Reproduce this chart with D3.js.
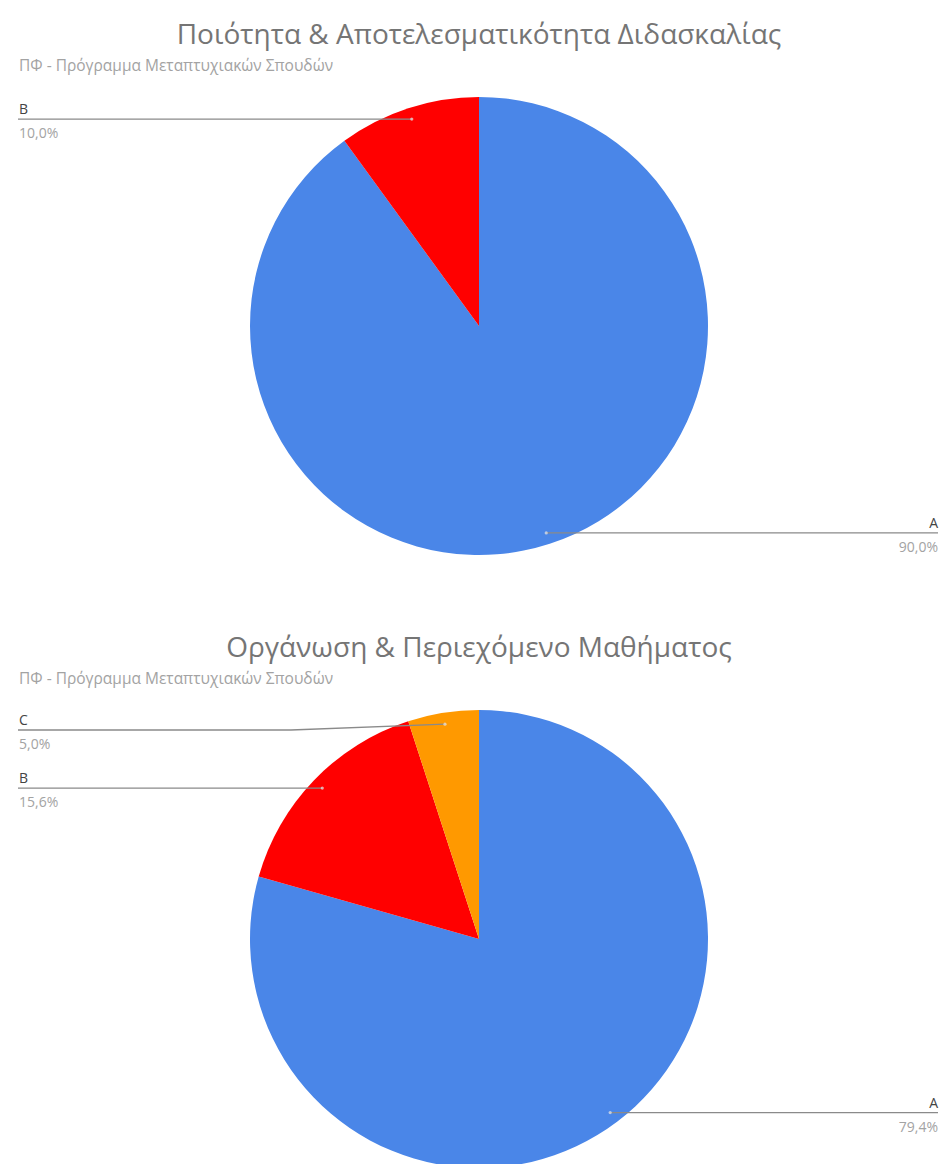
<!DOCTYPE html>
<html>
<head>
<meta charset="utf-8">
<script src="https://cdn.jsdelivr.net/npm/d3@7"></script>
<style>
  body { margin: 0; background: #fff; }
  text { font-family: "Open Sans", sans-serif; }
</style>
</head>
<body>
<div id="vis"></div>
<script>
// Page constants
const FRAME_WIDTH = 943;
const FRAME_HEIGHT = 1164;
const CHART_STEP = 613;
const RADIUS = 229;
const CENTER_X = 479;
const CENTER_Y = 326;

// Chart data
const TITLES = ["Ποιότητα & Αποτελεσματικότητα Διδασκαλίας", "Οργάνωση & Περιεχόμενο Μαθήματος"];
const SUBTITLE = "ΠΦ - Πρόγραμμα Μεταπτυχιακών Σπουδών";
const CATEGORIES_1 = ["A", "B"];
const VALUES_1 = [90.0, 10.0];
const CATEGORIES_2 = ["A", "B", "C"];
const VALUES_2 = [79.4, 15.6, 5.0];
const COLORS = {A: "#4a86e8", B: "#ff0000", C: "#ff9900"};

const FRAME = d3.select("#vis")
    .append("svg")
    .attr("width", FRAME_WIDTH)
    .attr("height", FRAME_HEIGHT);

const fmt = (v) => v.toFixed(1).replace(".", ",") + "%";

function drawPie(idx, cats, vals) {
    let top = idx * CHART_STEP;
    let g = FRAME.append("g").attr("transform", "translate(0," + top + ")");

    g.append("text")
        .attr("x", CENTER_X)
        .attr("y", 44)
        .attr("text-anchor", "middle")
        .attr("font-size", "28px")
        .attr("fill", "#757575")
        .text(TITLES[idx]);

    g.append("text")
        .attr("x", 19)
        .attr("y", 71)
        .attr("font-size", "15.5px")
        .attr("fill", "#a3a3a3")
        .text(SUBTITLE);

    let data = cats.map((c, i) => ({cat: c, value: vals[i]}));
    let pie = d3.pie().sort(null).value((d) => d.value);
    let arc = d3.arc().innerRadius(0).outerRadius(RADIUS);
    let arcs = pie(data);

    let pg = g.append("g").attr("transform", "translate(" + CENTER_X + "," + CENTER_Y + ")");
    pg.selectAll("path")
        .data(arcs)
        .enter()
        .append("path")
        .attr("d", arc)
        .attr("fill", (d) => COLORS[d.data.cat]);

    // leader lines + labels
    let inner = d3.arc().innerRadius(RADIUS * 0.95).outerRadius(RADIUS * 0.95);
    arcs.forEach((d) => {
        let [px, py] = inner.centroid(d);
        px += CENTER_X; py += CENTER_Y;
        let mid = (d.startAngle + d.endAngle) / 2;
        let right = mid < Math.PI;
        let ly = py;
        // keep the small top-left label clear of the subtitle
        if (!right && py < CENTER_Y - RADIUS + 20) ly = CENTER_Y - RADIUS + 20;
        let ex = right ? 938 : 18;
        let pts;
        if (ly !== py) {
            pts = [[px, py], [px - 154, ly], [ex, ly]];
        } else {
            pts = [[px, py], [ex, ly]];
        }
        g.append("path")
            .attr("d", d3.line()(pts))
            .attr("fill", "none")
            .attr("stroke", "#8a8a8a")
            .attr("stroke-width", 1.3);
        g.append("circle")
            .attr("cx", px).attr("cy", py).attr("r", 1.6)
            .attr("fill", "#e8e8e8").attr("opacity", 0.7);

        let tx = right ? 938 : 19;
        let anchor = right ? "end" : "start";
        g.append("text")
            .attr("x", tx).attr("y", ly - 5)
            .attr("text-anchor", anchor)
            .attr("font-size", "14px")
            .attr("fill", "#444")
            .text(d.data.cat);
        g.append("text")
            .attr("x", tx).attr("y", ly + 19)
            .attr("text-anchor", anchor)
            .attr("font-size", "14px")
            .attr("fill", "#a3a3a3")
            .text(fmt(d.data.value));
    });
}

drawPie(0, CATEGORIES_1, VALUES_1);
drawPie(1, CATEGORIES_2, VALUES_2);
</script>
</body>
</html>
